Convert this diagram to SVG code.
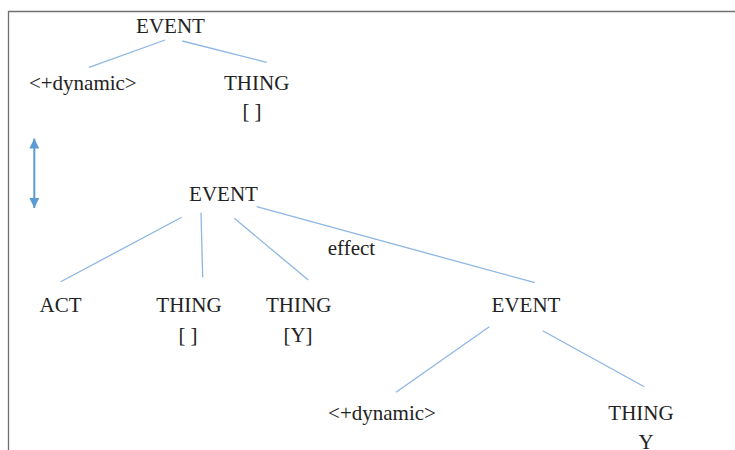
<svg xmlns="http://www.w3.org/2000/svg" width="735" height="450" viewBox="0 0 735 450">
<style>
.l{stroke:#8db6e4;stroke-width:1.3;fill:none}
.frame{stroke:#707070;stroke-width:1.3;fill:none}
</style>
<defs>
<marker id="ah" viewBox="0 0 10 10" refX="10" refY="5" markerWidth="10" markerHeight="10" markerUnits="userSpaceOnUse" orient="auto-start-reverse">
<path d="M0,0 L10,5 L0,10 Z" fill="#5b9bd5"/>
</marker>
</defs>
<rect width="735" height="450" fill="#fff"/>
<path class="frame" d="M8.5,450 V11.5 H735"/>
<g id="connectors">
<line class="l" x1="165" y1="40" x2="89" y2="67.3"/>
<line class="l" x1="182.3" y1="41" x2="266.7" y2="62.3"/>
<line class="l" x1="181.7" y1="217.3" x2="60.7" y2="281.7"/>
<line class="l" x1="201" y1="212.7" x2="202.7" y2="277.3"/>
<line class="l" x1="234.3" y1="218.3" x2="308.3" y2="280"/>
<line class="l" x1="256.7" y1="206.7" x2="535" y2="282.7"/>
<line class="l" x1="489.3" y1="326.7" x2="396" y2="392.3"/>
<line class="l" x1="542.7" y1="330.7" x2="644.3" y2="386.7"/>
<line x1="34.3" y1="138.5" x2="34.3" y2="208" stroke="#5b9bd5" stroke-width="2" marker-start="url(#ah)" marker-end="url(#ah)"/>
<text x="351.5" y="255" font-family="Liberation Serif" font-size="21" fill="#222" text-anchor="middle">effect</text>
</g>
<g id="event-top"><text x="170.5" y="33.3" font-family="Liberation Serif" font-size="21" fill="#222" text-anchor="middle">EVENT</text></g>
<g id="dynamic-top"><text x="82.8" y="90" font-family="Liberation Serif" font-size="21" fill="#222" text-anchor="middle">&lt;+dynamic&gt;</text></g>
<g id="thing-top"><text x="256.7" y="90" font-family="Liberation Serif" font-size="21" fill="#222" text-anchor="middle">THING</text><text x="252" y="118" font-family="Liberation Serif" font-size="21" fill="#222" text-anchor="middle">[ ]</text></g>
<g id="event-mid"><text x="223.5" y="201" font-family="Liberation Serif" font-size="21" fill="#222" text-anchor="middle">EVENT</text></g>
<g id="act"><text x="60.5" y="311.7" font-family="Liberation Serif" font-size="21" fill="#222" text-anchor="middle">ACT</text></g>
<g id="thing-mid1"><text x="189" y="311.7" font-family="Liberation Serif" font-size="21" fill="#222" text-anchor="middle">THING</text><text x="188" y="341.7" font-family="Liberation Serif" font-size="21" fill="#222" text-anchor="middle">[ ]</text></g>
<g id="thing-mid2"><text x="298.7" y="311.7" font-family="Liberation Serif" font-size="21" fill="#222" text-anchor="middle">THING</text><text x="298" y="341.7" font-family="Liberation Serif" font-size="21" fill="#222" text-anchor="middle">[Y]</text></g>
<g id="event-low"><text x="526" y="311.7" font-family="Liberation Serif" font-size="21" fill="#222" text-anchor="middle">EVENT</text></g>
<g id="dynamic-low"><text x="382" y="420" font-family="Liberation Serif" font-size="21" fill="#222" text-anchor="middle">&lt;+dynamic&gt;</text></g>
<g id="thing-low"><text x="641" y="420" font-family="Liberation Serif" font-size="21" fill="#222" text-anchor="middle">THING</text><text x="646" y="449" font-family="Liberation Serif" font-size="21" fill="#222" text-anchor="middle">Y</text></g>
</svg>
